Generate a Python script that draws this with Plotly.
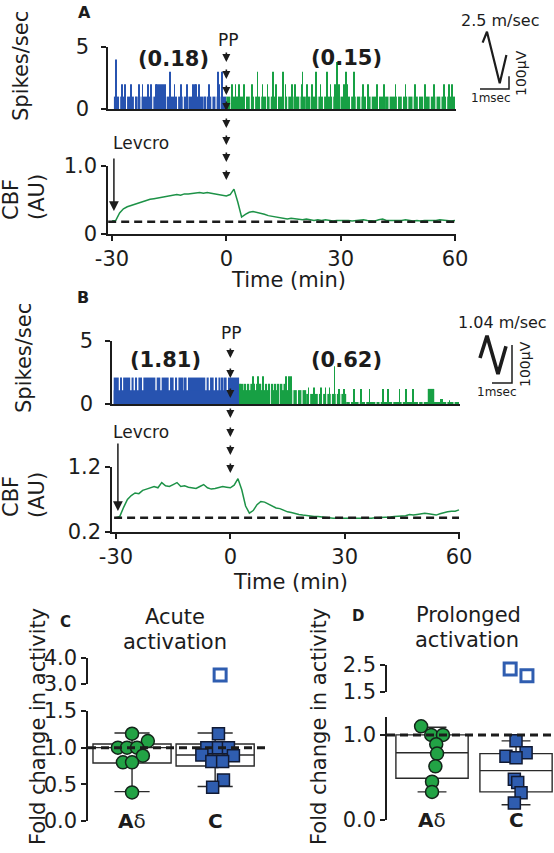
import plotly.graph_objects as go

W, H = 554, 853
FONT = "DejaVu Sans"
INK = "#1c1c1c"
BLUE = "#2753B0"
GREEN = "#17A044"
CBF_GREEN = "#1D9247"
DOT_GREEN = "#22A345"
DOT_BLUE = "#2F5DB0"
EDGE = "#14241a"

# ---------------- data ----------------
TIME_TICKS = [-30, 0, 30, 60]
TIME_LABELS = ["-30", "0", "30", "60"]
PP_TIME = 0
LEVCRO_TIME = -29.5

# Panel A spike rate (spikes/sec)
A_PRE_BAND = [-29.5, 0.0]
A_PRE_GAPS = [-28.0, -26.2, -24.1, -23.5, -22.4, -19.3, -15.8, -12.8, -11.3,
              -10.1, -5.8, -5.3, -3.8, -2.7, -1.4]
A_PRE_SPIKES = [(-29.0, 4), (-27.4, 2), (-26.6, 2), (-25.0, 2), (-23.0, 2), (-22.0, 2),
                (-20.6, 2), (-19.8, 2), (-18.5, 2), (-18.1, 2), (-17.7, 2), (-17.3, 2),
                (-16.9, 2), (-16.5, 2), (-16.1, 2), (-14.7, 3), (-13.6, 2), (-11.9, 2),
                (-10.4, 2), (-8.7, 2), (-8.3, 2), (-8.0, 2), (-7.1, 2), (-4.5, 2),
                (-2.2, 3), (-1.8, 2), (-1.2, 3)]
A_POST_BAND = [0.0, 60.0]
A_POST_GAPS = [1.2, 2.5, 3.1, 5.0, 6.3, 7.4, 9.0, 10.6, 11.5, 13.4, 15.2, 16.1, 17.8,
               19.3, 21.0, 22.2, 24.0, 25.5, 27.9, 29.8, 31.0, 32.6, 34.1, 35.3, 36.8,
               38.0, 39.9, 41.5, 42.7, 44.9, 46.2, 47.6, 49.0, 50.4, 51.8, 53.5, 55.0,
               56.3, 57.8, 59.2]
A_POST_SPIKES = [(1.5, 2), (2.4, 2), (3.4, 2), (4.7, 2), (6.8, 2), (8.2, 3), (9.5, 2),
                 (10.8, 2), (12.2, 3), (13.0, 2), (14.8, 3), (15.5, 2), (17.2, 2),
                 (18.1, 2), (19.9, 2), (20.0, 3), (21.2, 2), (22.5, 2), (23.5, 3),
                 (24.7, 2), (26.4, 3), (27.3, 2), (28.6, 2), (29.1, 3.8), (29.5, 2),
                 (30.8, 2), (31.4, 3), (31.7, 2), (33.5, 3), (35.8, 2), (37.2, 2),
                 (39.5, 2), (41.3, 2), (44.4, 2), (47.0, 2), (49.6, 2), (52.2, 2),
                 (54.4, 2), (57.1, 2), (58.4, 2), (59.2, 2)]
A_RATES = ["(0.18)", "(0.15)"]

# Panel B spike rate (spikes/sec)
B_PRE_BAND = [-30.6, 2.3]
B_PRE_LEVELS = [2.1, 1.1]
B_PRE_GAPS = [-29.1, -28.3, -26.1, -25.2, -24.3, -23.0, -19.5, -18.2, -16.0, -14.7,
              -13.8, -12.1, -11.3, -6.4, -5.5, -4.2, -3.3, -2.4, -1.6, -0.8]
B_POST_START = [2.3, 2.3, 19.9, 51.8, 30.4]
B_POST_END = [14.6, 19.9, 30.4, 53.5, 60.0]
B_POST_LEVEL = [1.6, 1.1, 0.8, 1.2, 0.12]
B_POST_GAPS = [[2.9, 3.6, 4.3, 5.1, 6.0, 6.6, 7.6, 8.1, 9.0, 9.8, 10.5, 11.4, 12.2, 13.0, 13.8],
               [10.6, 12.9, 16.4, 17.6, 18.8],
               [20.8, 21.9, 23.1, 24.2, 25.3, 26.5, 27.8, 29.0],
               [],
               [31.5, 33.8, 35.5, 38.2, 39.3, 42.6, 45.1, 49.4, 50.6, 56.8, 58.7]]
B_POST_SPIKES = [(5.9, 2.2), (7.2, 2.2), (8.5, 2.2), (14.6, 2.2), (15.3, 2.2), (15.9, 2.2),
                 (20.5, 1.3), (22.0, 1.3), (23.8, 1.3), (25.0, 1.3), (26.0, 1.3), (27.3, 3.0),
                 (28.6, 1.2), (29.8, 1.2), (32.5, 1.2), (34.3, 1.2), (36.5, 1.2), (40.0, 1.2),
                 (41.3, 1.2), (44.4, 1.2), (46.1, 1.2), (47.9, 1.2), (55.2, 0.4), (55.7, 0.4),
                 (57.5, 0.3)]
B_RATES = ["(1.81)", "(0.62)"]

# CBF traces (AU), one value per minute from -30 to 60
CBF_T = list(range(-30, 61))
CBF_A = [0.19, 0.20, 0.31, 0.37, 0.40, 0.42, 0.44, 0.45, 0.47, 0.50,
         0.51, 0.52, 0.53, 0.53, 0.55, 0.56, 0.57, 0.58, 0.57, 0.59,
         0.59, 0.60, 0.60, 0.61, 0.60, 0.61, 0.60, 0.59, 0.58, 0.57,
         0.56, 0.58, 0.66, 0.47, 0.25, 0.29, 0.32, 0.33, 0.32, 0.30,
         0.29, 0.27, 0.26, 0.25, 0.24, 0.23, 0.22, 0.23, 0.22, 0.21,
         0.21, 0.22, 0.21, 0.20, 0.21, 0.20, 0.21, 0.20, 0.19, 0.20,
         0.20, 0.21, 0.20, 0.19, 0.20, 0.20, 0.21, 0.20, 0.20, 0.19,
         0.21, 0.22, 0.20, 0.20, 0.19, 0.20, 0.20, 0.21, 0.20, 0.19,
         0.20, 0.19, 0.20, 0.20, 0.19, 0.20, 0.21, 0.20, 0.20, 0.19,
         0.20]
CBF_B = [0.42, 0.44, 0.58, 0.70, 0.76, 0.80, 0.79, 0.84, 0.86, 0.88,
         0.90, 0.88, 0.96, 0.91, 0.90, 0.93, 0.96, 0.90, 0.91, 0.89,
         0.88, 0.87, 0.90, 0.93, 0.88, 0.86, 0.87, 0.88, 0.90, 0.89,
         0.88, 0.92, 1.02, 0.85, 0.60, 0.49, 0.53, 0.62, 0.67, 0.66,
         0.63, 0.60, 0.57, 0.56, 0.53, 0.51, 0.50, 0.48, 0.47, 0.46,
         0.45, 0.45, 0.44, 0.44, 0.43, 0.42, 0.42, 0.41, 0.41, 0.41,
         0.41, 0.40, 0.40, 0.40, 0.40, 0.41, 0.40, 0.41, 0.42, 0.42,
         0.43, 0.42, 0.43, 0.44, 0.44, 0.45, 0.45, 0.47, 0.46, 0.47,
         0.48, 0.49, 0.48, 0.47, 0.46, 0.48, 0.50, 0.51, 0.52, 0.52,
         0.54]
CBF_A_BASE = 0.18
CBF_B_BASE = 0.42

# Spike waveforms (ms, microvolts)
WAVE_A_MS = [0.09, 0.24, 0.68, 0.91]
WAVE_A_UV = [365, 451, 45, 268]
WAVE_B_MS = [-0.6, -0.25, 0.3, 0.7]
WAVE_B_UV = [66, 124, 24, 97]
WAVE_LABELS = ["2.5 m/sec", "1.04 m/sec"]

# Panels C / D: fold change in activity
GROUPS = ["A\u03b4", "C"]
C_Q1 = [0.79, 0.75]
C_MED = [1.0, 0.9]
C_Q3 = [1.05, 1.05]
C_LO = [0.4, 0.47]
C_HI = [1.2, 1.2]
C_AD = [1.19, 1.09, 1.0, 1.0, 1.0, 0.89, 0.8, 0.8, 0.39]
C_AD_JIT = [0.0, 0.19, -0.17, -0.06, 0.06, 0.13, -0.11, 0.0, 0.0]
C_C = [1.19, 1.0, 1.0, 1.0, 0.9, 0.89, 0.81, 0.81, 0.56, 0.46]
C_C_JIT = [0.04, -0.1, 0.04, 0.16, -0.16, 0.22, -0.04, 0.09, 0.1, -0.03]
C_C_OUT = [3.35]
C_C_OUT_JIT = [0.06]

D_Q1 = [0.49, 0.33]
D_MED = [0.79, 0.58]
D_Q3 = [1.0, 0.78]
D_LO = [0.33, 0.18]
D_HI = [1.09, 0.93]
D_AD = [1.1, 1.0, 1.0, 0.89, 0.78, 0.63, 0.45, 0.33]
D_AD_JIT = [-0.13, -0.01, 0.13, 0.05, 0.06, 0.04, 0.0, 0.0]
D_AD_OUT = [1.29]
D_AD_OUT_JIT = [0.05]
D_C = [0.93, 0.79, 0.75, 0.73, 0.48, 0.44, 0.32, 0.2]
D_C_JIT = [0.0, 0.12, -0.12, 0.0, -0.02, 0.02, 0.06, -0.02]
D_C_OUT = [2.35, 2.1, 1.02]
D_C_OUT_JIT = [-0.07, 0.13, 0.04]


# ---------------- helpers ----------------
def fx(px):
    return px / W


def fy(py):
    return 1 - py / H


fig = go.Figure()


def band_runs(band, gaps, gw):
    t0, t1 = band
    edges = [t0]
    for g in sorted(gaps):
        edges += [g - gw / 2, g + gw / 2]
    edges.append(t1)
    xs, ws = [], []
    for a, b in zip(edges[0::2], edges[1::2]):
        if b > a:
            xs.append((a + b) / 2)
            ws.append(b - a)
    return xs, ws


def add_band(band, gaps, level, color, xa, ya, gw=0.3):
    xs, ws = band_runs(band, gaps, gw)
    fig.add_trace(go.Bar(x=xs, y=[level] * len(xs), width=ws,
                         marker=dict(color=color, line=dict(width=0)),
                         xaxis=xa, yaxis=ya, hoverinfo="skip", showlegend=False))


def add_spikes(spikes, color, xa, ya, w=0.2):
    ts = [s[0] for s in spikes]
    ns = [s[1] for s in spikes]
    fig.add_trace(go.Bar(x=ts, y=ns, width=[w] * len(ts),
                         marker=dict(color=color, line=dict(width=0)),
                         xaxis=xa, yaxis=ya, hoverinfo="skip", showlegend=False))


def ann(text, px, py, size, bold=False, angle=0):
    fig.add_annotation(text=f"<b>{text}</b>" if bold else text,
                       x=fx(px), y=fy(py), xref="paper", yref="paper",
                       showarrow=False, textangle=angle,
                       xanchor="center", yanchor="middle",
                       font=dict(family=FONT, size=size, color=INK))


def arrow(xdata, xref, py_tip, length, width=1.6, size=1.0):
    fig.add_annotation(x=xdata, y=fy(py_tip), xref=xref, yref="paper",
                       ax=0, ay=-length, axref="pixel", ayref="pixel",
                       showarrow=True, arrowhead=2, arrowsize=size,
                       arrowwidth=width, arrowcolor=INK, text="")


# ---------------- Panel A ----------------
add_band(A_PRE_BAND, A_PRE_GAPS, 1, BLUE, "x", "y")
add_spikes(A_PRE_SPIKES, BLUE, "x", "y")
add_band(A_POST_BAND, A_POST_GAPS, 1, GREEN, "x", "y")
add_spikes(A_POST_SPIKES, GREEN, "x", "y")

fig.add_trace(go.Scatter(x=CBF_T, y=CBF_A, mode="lines",
                         line=dict(color=CBF_GREEN, width=1.5),
                         xaxis="x2", yaxis="y2", hoverinfo="skip", showlegend=False))

# ---------------- Panel B ----------------
add_band(B_PRE_BAND, B_PRE_GAPS, B_PRE_LEVELS[0], BLUE, "x3", "y3", gw=0.35)
add_band(B_PRE_BAND, [], B_PRE_LEVELS[1], BLUE, "x3", "y3")
for s, e, lv, gp in zip(B_POST_START, B_POST_END, B_POST_LEVEL, B_POST_GAPS):
    add_band([s, e], gp, lv, GREEN, "x3", "y3")
add_spikes(B_POST_SPIKES, GREEN, "x3", "y3")

fig.add_trace(go.Scatter(x=CBF_T, y=CBF_B, mode="lines",
                         line=dict(color=CBF_GREEN, width=1.5),
                         xaxis="x4", yaxis="y4", hoverinfo="skip", showlegend=False))

# CBF baselines
fig.add_shape(type="line", xref="x2", yref="y2", x0=-31, x1=60, y0=CBF_A_BASE, y1=CBF_A_BASE,
              line=dict(color=INK, width=2.5, dash="8px,5px"))
fig.add_shape(type="line", xref="x4", yref="y4", x0=-30.5, x1=60, y0=CBF_B_BASE, y1=CBF_B_BASE,
              line=dict(color=INK, width=2.5, dash="8px,5px"))

# waveform insets
for xa, ya, ms, uv, lw in [("x7", "y9", WAVE_A_MS, WAVE_A_UV, 2.2),
                           ("x8", "y10", WAVE_B_MS, WAVE_B_UV, 3.6)]:
    fig.add_trace(go.Scatter(x=ms, y=uv, mode="lines", line=dict(color=INK, width=lw),
                             xaxis=xa, yaxis=ya, hoverinfo="skip", showlegend=False))
    fig.add_trace(go.Scatter(x=[0, 1, 1], y=[0, 0, 100], mode="lines",
                             line=dict(color=INK, width=1.5),
                             xaxis=xa, yaxis=ya, hoverinfo="skip", showlegend=False))


# ---------------- Panels C / D ----------------
def box_panel(xa, ya, ya_up, q1, med, q3, lo, hi, width, ww,
              ad, adj, cc, ccj, ad_out, ad_out_j, c_out, c_out_j):
    fig.add_trace(go.Box(x=[0, 1], q1=q1, median=med, q3=q3, lowerfence=lo, upperfence=hi,
                         width=width, whiskerwidth=ww, boxpoints=False,
                         fillcolor="rgba(255,255,255,0)", line=dict(color="#2a2a2a", width=1.4),
                         xaxis=xa, yaxis=ya, hoverinfo="skip", showlegend=False))
    fig.add_shape(type="line", xref=f"{xa} domain", yref=ya, x0=0, x1=1, y0=1.0, y1=1.0,
                  line=dict(color=INK, width=3, dash="8px,5px"))
    fig.add_trace(go.Scatter(x=[0 + j for j in adj], y=ad, mode="markers",
                             marker=dict(symbol="circle", size=13, color=DOT_GREEN,
                                         line=dict(color=EDGE, width=1.5)),
                             cliponaxis=False, xaxis=xa, yaxis=ya, hoverinfo="skip",
                             showlegend=False))
    fig.add_trace(go.Scatter(x=[1 + j for j in ccj], y=cc, mode="markers",
                             marker=dict(symbol="square", size=12, color=DOT_BLUE,
                                         line=dict(color="#111a33", width=1.5)),
                             cliponaxis=False, xaxis=xa, yaxis=ya, hoverinfo="skip",
                             showlegend=False))
    if ad_out:
        fig.add_trace(go.Scatter(x=[0 + j for j in ad_out_j], y=ad_out, mode="markers",
                                 marker=dict(symbol="circle-open", size=12, color=DOT_GREEN,
                                             line=dict(width=3)),
                                 cliponaxis=False, xaxis=xa, yaxis=ya_up, hoverinfo="skip",
                                 showlegend=False))
    if c_out:
        fig.add_trace(go.Scatter(x=[1 + j for j in c_out_j], y=c_out, mode="markers",
                                 marker=dict(symbol="square-open", size=12, color=DOT_BLUE,
                                             line=dict(width=3)),
                                 cliponaxis=False, xaxis=xa, yaxis=ya_up, hoverinfo="skip",
                                 showlegend=False))
    for i, g in enumerate(GROUPS):
        label = "<b>A</b>\u03b4" if g == "A\u03b4" else f"<b>{g}</b>"
        fig.add_annotation(text=label, x=i, y=0, xref=xa, yref=ya, showarrow=False,
                           yanchor="middle", font=dict(family=FONT, size=20, color=INK))


box_panel("x5", "y5", "y6", C_Q1, C_MED, C_Q3, C_LO, C_HI, 0.94, 0.45,
          C_AD, C_AD_JIT, C_C, C_C_JIT, [], [], C_C_OUT, C_C_OUT_JIT)
box_panel("x6", "y7", "y8", D_Q1, D_MED, D_Q3, D_LO, D_HI, 0.86, 0.4,
          D_AD, D_AD_JIT, D_C, D_C_JIT, D_AD_OUT, D_AD_OUT_JIT, D_C_OUT, D_C_OUT_JIT)

# ---------------- axes ----------------
LINE = dict(showline=True, linecolor=INK, linewidth=1.5, ticks="outside", ticklen=5,
            tickwidth=1.5, tickcolor=INK, showgrid=False, zeroline=False, automargin=False,
            tickfont=dict(family=FONT, size=21, color=INK))
HIDDEN = dict(visible=False, showgrid=False, zeroline=False, automargin=False)
TRANGE = [-31.05, 60.26]

fig.update_layout(
    template="none",
    width=W, height=H, margin=dict(l=0, r=0, t=0, b=0, autoexpand=False),
    paper_bgcolor="white", plot_bgcolor="rgba(0,0,0,0)",
    barmode="overlay", showlegend=False,
    xaxis=dict(LINE, domain=[fx(108), fx(456)], range=TRANGE, anchor="y",
               ticks="", showticklabels=False),
    yaxis=dict(LINE, domain=[fy(109), fy(47)], range=[0, 5], anchor="x",
               tickvals=[0, 5], ticklabelstandoff=8),
    xaxis2=dict(LINE, domain=[fx(108), fx(456)], range=TRANGE, anchor="y2",
                tickvals=TIME_TICKS, ticktext=TIME_LABELS, ticklen=5),
    yaxis2=dict(LINE, domain=[fy(234), fy(166)], range=[0, 1.0], anchor="x2",
                tickvals=[0, 1.0], ticktext=["0", "1.0"]),
    xaxis3=dict(LINE, domain=[fx(112), fx(460)], range=TRANGE, anchor="y3",
                ticks="", showticklabels=False),
    yaxis3=dict(LINE, domain=[fy(404), fy(341)], range=[0, 5], anchor="x3",
                tickvals=[0, 5], ticklabelstandoff=8),
    xaxis4=dict(LINE, domain=[fx(112), fx(460)], range=TRANGE, anchor="y4",
                tickvals=TIME_TICKS, ticktext=TIME_LABELS, ticklen=5),
    yaxis4=dict(LINE, domain=[fy(532), fy(467)], range=[0.2, 1.2], anchor="x4",
                tickvals=[0.2, 1.2], ticktext=["0.2", "1.2"]),
    xaxis5=dict(HIDDEN, domain=[fx(88), fx(265)], range=[-0.53, 1.6], anchor="y5"),
    yaxis5=dict(LINE, domain=[fy(821), fy(711)], range=[0, 1.5], anchor="x5",
                tickvals=[0, 0.5, 1.0, 1.5], tickformat=".1f"),
    yaxis6=dict(LINE, domain=[fy(684), fy(658)], range=[3, 4], anchor="x5",
                tickvals=[3, 4], tickformat=".1f"),
    xaxis6=dict(HIDDEN, domain=[fx(387), fx(554)], range=[-0.536, 1.452], anchor="y7"),
    yaxis7=dict(LINE, domain=[fy(820), fy(717)], range=[0, 1.21], anchor="x6",
                tickvals=[0, 1.0], tickformat=".1f"),
    yaxis8=dict(LINE, domain=[fy(692), fy(665)], range=[1.5, 2.5], anchor="x6",
                tickvals=[1.5, 2.5], tickformat=".1f"),
    xaxis7=dict(HIDDEN, domain=[fx(470), fx(520)], range=[-0.345, 1.379], anchor="y9"),
    yaxis9=dict(HIDDEN, domain=[fy(95), fy(25)], range=[-47.2, 503.9], anchor="x7"),
    xaxis8=dict(HIDDEN, domain=[fx(470), fx(520)], range=[-1.1, 1.4], anchor="y10"),
    yaxis10=dict(HIDDEN, domain=[fy(390), fy(325)], range=[-18.4, 152.6], anchor="x8"),
)

# ---------------- text ----------------
ann("A", 84, 12, 16, bold=True)
ann("B", 83, 298, 16, bold=True)
ann("C", 65, 622, 15, bold=True)
ann("D", 358, 616, 15, bold=True)

ann("Spikes/sec", 21, 66, 21, angle=-90)
ann("Spikes/sec", 24, 358, 21, angle=-90)
ann("CBF", 11, 200, 21, angle=-90)
ann("(AU)", 37, 197, 21, angle=-90)
ann("CBF", 11, 497, 21, angle=-90)
ann("(AU)", 37, 495, 21, angle=-90)
ann("Time (min)", 288, 280, 21)
ann("Time (min)", 290, 582, 21)

ann(A_RATES[0], 173, 59, 21, bold=True)
ann(A_RATES[1], 346, 58, 21, bold=True)
ann(B_RATES[0], 165, 360, 21, bold=True)
ann(B_RATES[1], 346, 360, 21, bold=True)

ann("PP", 228, 40, 17)
ann("PP", 231, 333, 17)
ann("Levcro", 141, 143, 17)
ann("Levcro", 141, 432, 17)

ann(WAVE_LABELS[0], 500, 20, 16)
ann(WAVE_LABELS[1], 502, 322, 16)
ann("1msec", 491, 98, 12)
ann("1msec", 497, 392, 12)
ann("100\u03bcV", 521, 73, 14, angle=-90)
ann("100\u03bcV", 525, 364, 14, angle=-90)

ann("Acute", 175, 617, 21)
ann("activation", 175, 642, 21)
ann("Prolonged", 468, 615, 21)
ann("activation", 467, 640, 21)
ann("Fold change in activity", 38, 727, 21, angle=-90)
ann("Fold change in activity", 319, 727, 21, angle=-90)

# PP and Levcro arrows
for tip in [62, 79, 95, 111, 128, 145, 162, 180]:
    arrow(PP_TIME, "x2", tip, 11)
for tip in [358, 378, 398, 418, 437, 455, 473]:
    arrow(PP_TIME, "x4", tip, 11)
arrow(LEVCRO_TIME, "x2", 211, 54, width=1.5, size=1.3)
arrow(LEVCRO_TIME, "x4", 511, 69, width=1.5, size=1.3)

fig.write_html("out.html", config={"displayModeBar": False},
               post_script="document.body.style.margin='0';document.body.style.overflow='hidden';")
